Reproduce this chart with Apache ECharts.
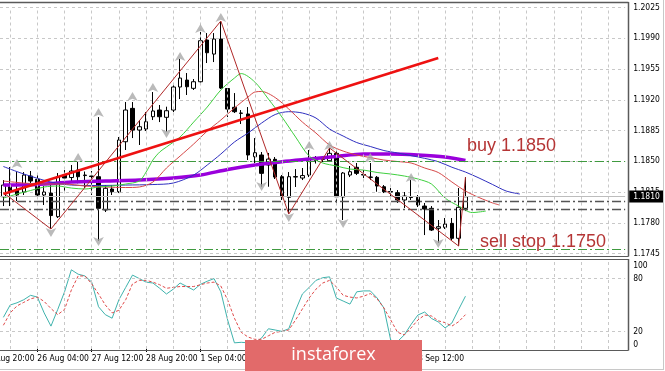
<!DOCTYPE html>
<html><head><meta charset="utf-8">
<script src="https://cdn.jsdelivr.net/npm/echarts@6/dist/echarts.min.js"></script>
<style>html,body{margin:0;padding:0;background:#fff;}#c{width:665px;height:371px;}</style>
</head><body><div id="c"></div>
<script>
// ---------- DATA (EURUSD H4, candle index k = 0 is 25 Aug 08:00) ----------
const timeLabels = ['24 Aug 20:00','26 Aug 04:00','27 Aug 12:00','28 Aug 20:00','1 Sep 04:00','2 Sep 12:00','3 Sep 20:00','7 Sep 04:00','8 Sep 12:00'];
const priceMin = 1.1745, priceMax = 1.2025, priceStep = 0.0035;
const stochLabels = {0:'0', 20:'20', 80:'80', 100:'100'};

const open  = [1.18096,1.18210,1.18172,1.18150,1.18332,1.18294,1.18116,1.18138,1.17869,1.18343,1.18315,1.18400,1.18337,1.18332,1.18324,1.17945,1.18184,1.18153,1.18722,1.19102,1.18855,1.18867,1.19007,1.19083,1.19000,1.19083,1.19345,1.19424,1.19330,1.19405,1.19880,1.19720,1.19891,1.19328,1.19114,1.19045,1.19038,1.18551,1.18571,1.18457,1.18522,1.18324,1.18089,1.18320,1.18309,1.18343,1.18508,1.18520,1.18506,1.18590,1.18093,1.18343,1.18431,1.18349,1.18320,1.18317,1.18210,1.18155,1.18142,1.18059,1.18087,1.18089,1.17990,1.17964,1.17737,1.17748,1.17793,1.17623,1.17964];
const close = [1.18229,1.18153,1.18116,1.18343,1.18275,1.18116,1.18150,1.17882,1.18324,1.18309,1.18389,1.18324,1.18343,1.18326,1.17964,1.18192,1.18153,1.18742,1.19083,1.18855,1.18893,1.18950,1.19072,1.19007,1.19075,1.19345,1.19447,1.19348,1.19405,1.19872,1.19735,1.19891,1.19333,1.19094,1.19064,1.19049,1.18571,1.18597,1.18362,1.18525,1.18320,1.18096,1.18324,1.18326,1.18337,1.18514,1.18514,1.18531,1.18590,1.18096,1.18366,1.18381,1.18362,1.18343,1.18317,1.18218,1.18153,1.18150,1.18059,1.18104,1.18093,1.18002,1.17956,1.17717,1.17755,1.17785,1.17623,1.17976,1.18096];
const low   = [1.17990,1.17990,1.18047,1.18116,1.18252,1.18081,1.18002,1.17729,1.17854,1.18161,1.18252,1.18249,1.18195,1.18116,1.17592,1.17922,1.18116,1.18138,1.18628,1.18764,1.18685,1.18844,1.18969,1.18946,1.18836,1.19060,1.19208,1.19254,1.19311,1.19390,1.19618,1.19629,1.19322,1.19003,1.19049,1.18924,1.18514,1.18480,1.18210,1.18210,1.18298,1.18059,1.17899,1.18207,1.18286,1.18320,1.18474,1.18491,1.18491,1.18025,1.17831,1.18320,1.18343,1.18309,1.18286,1.18153,1.18138,1.18104,1.18025,1.17968,1.18059,1.17979,1.17660,1.17706,1.17569,1.17729,1.17603,1.17535,1.17933];
const high  = [1.18286,1.18434,1.18377,1.18377,1.18389,1.18366,1.18218,1.18229,1.18366,1.18400,1.18457,1.18495,1.18383,1.18389,1.19003,1.18229,1.18229,1.18776,1.19174,1.19174,1.18969,1.19060,1.19288,1.19140,1.19121,1.19390,1.19664,1.19504,1.19436,1.19971,1.19959,1.19959,1.20096,1.19333,1.19276,1.19083,1.19117,1.18764,1.18605,1.18594,1.18548,1.18343,1.18377,1.18411,1.18423,1.18628,1.18559,1.18559,1.18651,1.18651,1.18377,1.18446,1.18480,1.18400,1.18480,1.18332,1.18229,1.18195,1.18172,1.18150,1.18286,1.18116,1.18025,1.17990,1.17831,1.17854,1.17854,1.18195,1.18320];

// moving averages, read as [k, price]
const maSlow = [[0,1.18229],[5,1.18235],[10,1.18263],[15,1.18275],[20,1.18286],[25,1.18309],[29,1.18343],[33,1.18406],[37,1.18457],[41,1.18495],[45,1.18525],[49,1.18554],[53,1.18582],[57,1.18582],[61,1.18571],[65,1.18548],[68,1.18508]];
const jaw = [[0,1.18440],[3,1.18355],[7,1.18263],[10,1.18229],[14,1.18224],[18,1.18229],[22,1.18235],[25,1.18252],[28,1.18343],[30,1.18457],[32,1.18582],[34,1.18719],[36,1.18821],[38,1.18935],[40,1.19032],[42,1.19064],[44,1.19049],[46,1.18992],[48,1.18867],[50,1.18787],[52,1.18713],[54,1.18668],[56,1.18622],[58,1.18594],[60,1.18564],[62,1.18533],[64,1.18495],[66,1.18432],[68,1.18377],[70,1.18309],[72,1.18235],[74,1.18161],[76,1.18127]];
const teeth = [[0,1.18275],[3,1.18252],[6,1.18241],[9,1.18241],[12,1.18218],[15,1.18207],[18,1.18201],[20,1.18207],[22,1.18263],[24,1.18423],[26,1.18559],[28,1.18696],[30,1.18844],[32,1.18969],[34,1.19106],[36,1.19231],[37,1.19288],[38,1.19294],[40,1.19225],[42,1.19094],[44,1.18946],[46,1.18821],[48,1.18685],[50,1.18616],[52,1.18571],[54,1.18542],[56,1.18514],[58,1.18497],[60,1.18480],[62,1.18423],[64,1.18372],[66,1.18264],[68,1.18161],[70,1.18087],[72,1.18025],[73,1.18002]];
const lips = [[0,1.18080],[2,1.18127],[4,1.18167],[6,1.18207],[8,1.18218],[10,1.18195],[12,1.18184],[14,1.18207],[16,1.18218],[18,1.18241],[20,1.18275],[21,1.18377],[22,1.18514],[23,1.18605],[24,1.18662],[26,1.18776],[28,1.18946],[30,1.19117],[32,1.19311],[34,1.19447],[35,1.19498],[37,1.19402],[39,1.19208],[41,1.19003],[43,1.18776],[45,1.18559],[47,1.18480],[49,1.18446],[51,1.18411],[53,1.18400],[55,1.18372],[57,1.18355],[59,1.18332],[61,1.18298],[63,1.18241],[65,1.18081],[67,1.17990],[69,1.17916],[71,1.17933]];
const zigzag = [[0,1.18143],[7,1.17729],[32,1.20096],[42,1.17899],[48,1.18651],[67,1.17535],[68,1.18320]];
const trendLine = [[0,1.18128],[64,1.19676]];
const fractalUp = [[2,1.18525],[11,1.18594],[14,1.19106],[19,1.19288],[22,1.19390],[26,1.19743],[29,1.20062],[32,1.20187],[45,1.18730],[48,1.18730],[54,1.18594],[60,1.18366]];
const fractalDown = [[7,1.17637],[14,1.17535],[24,1.18764],[38,1.18161],[42,1.17808],[50,1.17740],[64,1.17512]];
const levelBuy = 1.1850, levelSell = 1.1750, levelA = 1.1805, levelB = 1.1795, lastPrice = 1.1810;

const stochMain   = [36,50,52.5,56,61,59,41,26,45,65,90,85,83,76,48,39,35,56,70,84,80,76,75,69,62.5,68,75,71,67,73.5,77,80,65,33,7,7.6,7,7,12.5,23,21.6,20,23,44,62.5,70,78,81,82,58,54.5,51,65,66,66,58,46.6,10,8.5,16,28,38.6,42,34.7,30.7,24,29.5,45,60];
const stochSignal = [27,41,49,53,57,59,54,46,39,45,67,83,83,74,62.5,50,41,44,56,74,78,78,76,73,69,70,71,71,71,73,75,76,71.6,55.7,35,19,13.6,11,11,15,19,20,21.6,33,45.5,58,68,75,78,70.5,61,59,58,60,63,57,46.6,33,19,16,24,33,38.6,37.5,32,30,26,31,39];

// ---------- LAYOUT ----------
const N = 92;                  // number of bar slots on the axis (k = 0 .. 91)
const W = 6.795;               // px per bar
const gridWidth = N * W;
const FONT = "'DejaVu Sans Condensed','Liberation Sans',sans-serif";
const FS = 8.5;
const LABEL_FIRST = 5, LABEL_STEP = 8;   // time label on bar k = 5, 13, 21 ...

const cats = Array.from({length: N}, (_, i) => String(i));
const candleData = open.map((o, k) => [o, close[k], low[k], high[k]]);
const seriesPairs = a => a.map((v, k) => [k, v]);
const vLines = [];
for (let i = 1; i < N; i += 4) vLines.push({xAxis: i});
const labelIdx = i => (i - LABEL_FIRST) / LABEL_STEP + 1;
const isLabel = i => i >= LABEL_FIRST && (i - LABEL_FIRST) % LABEL_STEP === 0 && labelIdx(i) < timeLabels.length;

const gridLine = {color: '#c8c8c8', type: [3, 3], width: 1};
const lineBase = {type: 'line', symbol: 'none', silent: true, animation: false};

const chart = echarts.init(document.getElementById('c'), null, {renderer: 'canvas'});
chart.setOption({
  animation: false,
  backgroundColor: '#ffffff',
  grid: [
    {left: 0, top: 7.5, width: gridWidth, height: 246},
    {left: 0, top: 261, width: gridWidth, height: 88}
  ],
  xAxis: [
    {type: 'category', data: cats, gridIndex: 0, boundaryGap: true,
     axisLine: {show: false}, axisTick: {show: false}, axisLabel: {show: false}, splitLine: {show: false}},
    {type: 'category', data: cats, gridIndex: 1, boundaryGap: true,
     axisLine: {show: false},
     axisTick: {show: true, alignWithLabel: true, interval: (i) => isLabel(i), length: 3, lineStyle: {color: '#000'}},
     axisLabel: {show: true, interval: (i) => isLabel(i), formatter: (v, i) => isLabel(i) ? timeLabels[labelIdx(i)] : '',
                 showMinLabel: true, align: 'left', margin: 5.5, color: '#000', fontSize: FS, fontFamily: FONT},
     splitLine: {show: false}}
  ],
  yAxis: [
    {type: 'value', gridIndex: 0, position: 'right', min: priceMin, max: priceMax, interval: priceStep,
     axisLine: {show: false}, axisTick: {show: false},
     axisLabel: {formatter: v => v.toFixed(4), margin: 8, color: '#000', fontSize: FS, fontFamily: FONT},
     splitLine: {show: true, lineStyle: gridLine}},
    {type: 'value', gridIndex: 1, position: 'right', min: 0, max: 100, interval: 20,
     axisLine: {show: false}, axisTick: {show: false},
     axisLabel: {margin: 8, color: '#000', fontSize: FS, fontFamily: FONT,
       formatter: v => v === 100 ? '{t|100}' : (v === 0 ? '{b|0}' : (stochLabels[v] || '')),
       rich: {t: {padding: [9, 0, 0, 0], fontSize: FS, fontFamily: FONT, color: '#000'},
              b: {padding: [0, 0, 8, 0], fontSize: FS, fontFamily: FONT, color: '#000'}}},
     splitLine: {show: false}}
  ],
  series: [
    Object.assign({}, lineBase, {name: 'vgrid0', xAxisIndex: 0, yAxisIndex: 0, data: [], z: 0,
      markLine: {silent: true, symbol: 'none', precision: 6, label: {show: false}, lineStyle: gridLine, data: vLines}}),
    Object.assign({}, lineBase, {name: 'vgrid1', xAxisIndex: 1, yAxisIndex: 1, data: [], z: 0,
      markLine: {silent: true, symbol: 'none', precision: 6, label: {show: false}, lineStyle: gridLine,
                 data: vLines.concat([{yAxis: 20}, {yAxis: 80}])}}),
    Object.assign({}, lineBase, {name: 'levels', xAxisIndex: 0, yAxisIndex: 0, data: [], z: 1,
      markLine: {silent: true, symbol: 'none', precision: 6, label: {show: false}, data: [
        {yAxis: levelBuy,  lineStyle: {color: '#3f9a3f', type: [9, 3, 2, 3], width: 1}},
        {yAxis: levelSell, lineStyle: {color: '#3f9a3f', type: [9, 3, 2, 3], width: 1}},
        {yAxis: levelA,    lineStyle: {color: '#555555', type: [9, 3, 2, 3], width: 1.4}},
        {yAxis: levelB,    lineStyle: {color: '#555555', type: [9, 3, 2, 3], width: 1.4}},
        {yAxis: lastPrice, lineStyle: {color: '#bdbdbd', type: 'solid', width: 1},
         label: {show: true, position: 'end', distance: 4, formatter: lastPrice.toFixed(4),
                 backgroundColor: '#000', color: '#fff', padding: [2, 4, 1, 4],
                 fontSize: FS, fontFamily: FONT}}
      ]}}),
    {type: 'candlestick', name: 'EURUSD', xAxisIndex: 0, yAxisIndex: 0, data: candleData, z: 3,
     barWidth: 4, silent: true,
     itemStyle: {color: '#ffffff', color0: '#000000', borderColor: '#000000', borderColor0: '#000000', borderWidth: 1}},
    Object.assign({}, lineBase, {name: 'MA', data: maSlow, z: 4, smooth: 0.3,
      lineStyle: {color: '#9a00dc', width: 3.5}}),
    Object.assign({}, lineBase, {name: 'Jaw', data: jaw, z: 4, smooth: 0.3,
      lineStyle: {color: '#2f2fc0', width: 1}}),
    Object.assign({}, lineBase, {name: 'Teeth', data: teeth, z: 4, smooth: 0.3,
      lineStyle: {color: '#d64848', width: 1}}),
    Object.assign({}, lineBase, {name: 'Lips', data: lips, z: 4, smooth: 0.3,
      lineStyle: {color: '#3fd03f', width: 1}}),
    Object.assign({}, lineBase, {name: 'ZigZag', data: zigzag, z: 5,
      lineStyle: {color: '#b02828', width: 1}}),
    Object.assign({}, lineBase, {name: 'Trend', data: trendLine, z: 6,
      lineStyle: {color: '#ee1111', width: 2.6}}),
    {type: 'scatter', name: 'FractalUp', data: fractalUp, z: 5, silent: true,
     symbol: 'arrow', symbolSize: [8, 9], itemStyle: {color: '#a9a9a9'}},
    {type: 'scatter', name: 'FractalDown', data: fractalDown, z: 5, silent: true,
     symbol: 'arrow', symbolRotate: 180, symbolSize: [8, 9], itemStyle: {color: '#a9a9a9'}},
    Object.assign({}, lineBase, {name: 'Stoch', xAxisIndex: 1, yAxisIndex: 1, data: seriesPairs(stochMain), z: 4,
      lineStyle: {color: '#3fb3ad', width: 1}}),
    Object.assign({}, lineBase, {name: 'Signal', xAxisIndex: 1, yAxisIndex: 1, data: seriesPairs(stochSignal), z: 4,
      lineStyle: {color: '#e04a4a', width: 1, type: [3, 2]}})
  ],
  graphic: [
    // first time label belongs to a bar left of the visible window (k = -3); only its tail shows
    {type: 'text', silent: true, z: 5, style: {text: timeLabels[0], x: 0.5 * W - 3 * W, y: 354.5, verticalAlign: 'top',
      font: FS + "px " + FONT, fill: '#000'}},
    // panel frames
    {type: 'line', silent: true, z: 10, shape: {x1: 0, y1: 2.5, x2: 628.5, y2: 2.5}, style: {stroke: '#5a5a5a', lineWidth: 1.5}},
    {type: 'line', silent: true, z: 10, shape: {x1: 628.5, y1: 2, x2: 628.5, y2: 256.5}, style: {stroke: '#5a5a5a', lineWidth: 1.5}},
    {type: 'line', silent: true, z: 10, shape: {x1: 0, y1: 256.5, x2: 628.5, y2: 256.5}, style: {stroke: '#5a5a5a', lineWidth: 1.2}},
    {type: 'line', silent: true, z: 10, shape: {x1: 0, y1: 259.5, x2: 628.5, y2: 259.5}, style: {stroke: '#5a5a5a', lineWidth: 1.2}},
    {type: 'line', silent: true, z: 10, shape: {x1: 628.5, y1: 259, x2: 628.5, y2: 350.5}, style: {stroke: '#5a5a5a', lineWidth: 1.5}},
    {type: 'line', silent: true, z: 10, shape: {x1: 0, y1: 350.5, x2: 628.5, y2: 350.5}, style: {stroke: '#5a5a5a', lineWidth: 1.2}},
    // outer window edges
    {type: 'line', silent: true, z: 10, shape: {x1: 663.5, y1: 0, x2: 663.5, y2: 370}, style: {stroke: '#c8c8c8', lineWidth: 1}},
    {type: 'line', silent: true, z: 10, shape: {x1: 0, y1: 369.5, x2: 664, y2: 369.5}, style: {stroke: '#c8c8c8', lineWidth: 1}},
    // annotations
    {type: 'text', silent: true, z: 20, style: {text: 'buy 1.1850', x: 467, y: 146, verticalAlign: 'middle',
      font: "18px 'Liberation Sans', Arial, sans-serif", fill: '#b53535'}},
    {type: 'text', silent: true, z: 20, style: {text: 'sell stop 1.1750', x: 480, y: 242, verticalAlign: 'middle',
      font: "18px 'Liberation Sans', Arial, sans-serif", fill: '#b53535'}},
    // logo
    {type: 'rect', silent: true, z: 30, shape: {x: 245, y: 340, width: 177, height: 31}, style: {fill: '#e26a6a'}},
    {type: 'text', silent: true, z: 31, style: {text: 'instaforex', x: 333.5, y: 355, align: 'center', verticalAlign: 'middle',
      font: "18px 'Open Sans', 'Noto Sans', sans-serif", fill: '#ffffff'}}
  ]
});
</script>
</body></html>
